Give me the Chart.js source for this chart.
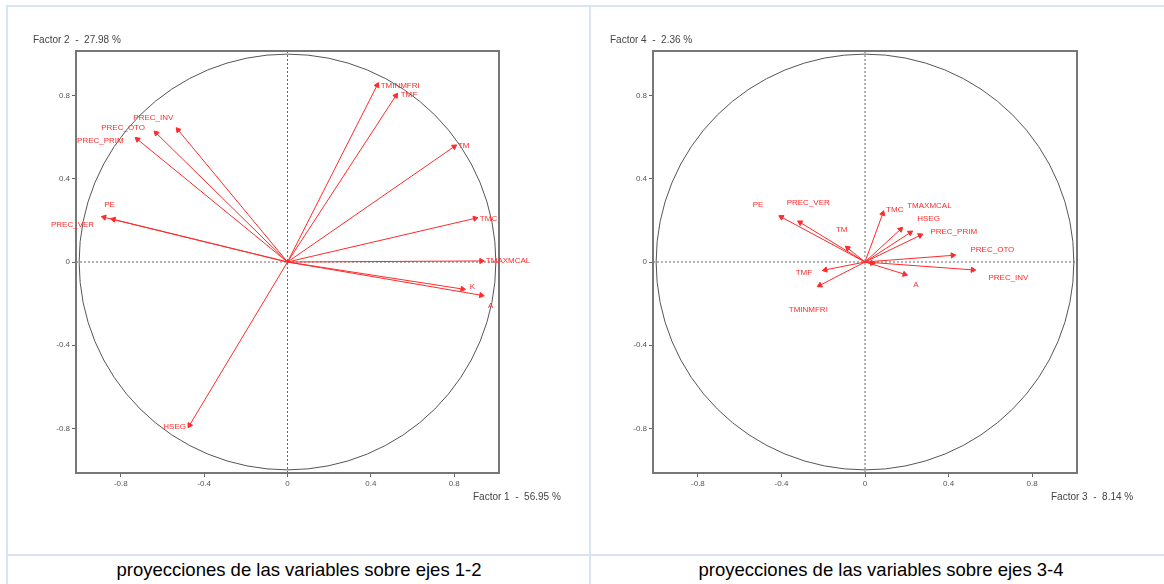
<!DOCTYPE html>
<html>
<head>
<meta charset="utf-8">
<script src="https://cdn.jsdelivr.net/npm/chart.js@4/dist/chart.umd.min.js"></script>
<style>
  body { margin: 0; background: #fff; width: 1164px; height: 584px; overflow: hidden; position: relative;
         font-family: "Liberation Sans", Arial, sans-serif; }
  .rule { position: absolute; background: #dae3f3; }
  .cap { position: absolute; top: 557px; height: 27px; line-height: 26px; text-align: center;
         font-size: 18.5px; color: #000; }
  canvas { position: absolute; }
</style>
</head>
<body>
<div class="rule" style="left:6px;top:5px;width:1158px;height:2px"></div>
<div class="rule" style="left:6px;top:5px;width:2px;height:579px"></div>
<div class="rule" style="left:589px;top:5px;width:2px;height:579px"></div>
<div class="rule" style="left:6px;top:554px;width:1158px;height:2px"></div>

<canvas id="plot12" width="580" height="546" style="left:9px;top:8px"></canvas>
<canvas id="plot34" width="572" height="546" style="left:592px;top:8px"></canvas>

<div class="cap" style="left:8px;width:582px">proyecciones de las variables sobre ejes 1-2</div>
<div class="cap" style="left:591px;width:580px">proyecciones de las variables sobre ejes 3-4</div>

<script>
// variable coordinates on the factor axes
const variables = ["TMINMFRI", "TMF", "TM", "TMC", "TMAXMCAL", "K", "A", "HSEG",
                   "PREC_INV", "PREC_OTO", "PREC_PRIM", "PE", "PREC_VER"];
const factor1 = [0.43, 0.52, 0.80, 0.90, 0.93, 0.84, 0.93, -0.47, -0.525, -0.63, -0.72, -0.88, -0.835];
const factor2 = [0.85, 0.80, 0.555, 0.21, 0.005, -0.13, -0.16, -0.785, 0.635, 0.62, 0.59, 0.215, 0.205];
const factor3 = [-0.216, -0.19, -0.083, 0.085, 0.17, 0.035, 0.19, 0.216, 0.516, 0.42, 0.264, -0.40, -0.31];
const factor4 = [-0.112, -0.038, 0.067, 0.233, 0.157, -0.005, -0.059, 0.141, -0.038, 0.032, 0.128, 0.216, 0.19];

// where each name sits (left edge of text), in factor units; null = not shown
const labelX12 = [0.447, 0.543, 0.817, 0.923, 0.952, 0.875, 0.962, -0.596, -0.74, -0.894, -1.01, -0.88, -1.135];
const labelY12 = [0.846, 0.803, 0.558, 0.207, 0.005, -0.12, -0.21, -0.793, 0.692, 0.644, 0.582, 0.274, 0.178];
const labelX34 = [-0.365, -0.332, -0.139, 0.101, 0.202, null, 0.231, 0.25, 0.591, 0.505, 0.313, -0.538, -0.375];
const labelY34 = [-0.231, -0.053, 0.154, 0.25, 0.268, null, -0.11, 0.207, -0.077, 0.058, 0.144, 0.274, 0.284];

const axisTicks = [-0.8, -0.4, 0, 0.4, 0.8];
const axisLimit = 1.015;

const RED = "#ff2a2a";

function pcaPlot(id, xs, ys, labX, labY, yTitle, xTitle, padLeft, padRight) {
  const datasets = variables.map((name, i) => {
    const rot = 90 - Math.atan2(ys[i], xs[i]) * 180 / Math.PI;
    return {
      label: name,
      data: [{ x: 0, y: 0 }, { x: xs[i], y: ys[i] }],
      showLine: true,
      borderColor: RED,
      borderWidth: 1,
      pointStyle: "triangle",
      pointRadius: [0, 3],
      pointRotation: [0, rot],
      pointBackgroundColor: RED,
      pointBorderColor: RED,
      pointBorderWidth: 1
    };
  });

  const decor = {
    id: "decor",
    beforeDatasetsDraw(chart) {
      const { ctx, chartArea: a, scales: { x, y } } = chart;
      const cx = x.getPixelForValue(0), cy = y.getPixelForValue(0);
      ctx.save();
      // unit circle
      ctx.strokeStyle = "#555";
      ctx.lineWidth = 1;
      ctx.beginPath();
      ctx.ellipse(cx, cy, x.getPixelForValue(1) - cx, cy - y.getPixelForValue(1), 0, 0, Math.PI * 2);
      ctx.stroke();
      // dotted axes through origin
      ctx.setLineDash([2, 2]);
      ctx.strokeStyle = "#666";
      ctx.beginPath();
      ctx.moveTo(a.left, cy); ctx.lineTo(a.right, cy);
      ctx.moveTo(cx, a.top); ctx.lineTo(cx, a.bottom);
      ctx.stroke();
      ctx.setLineDash([]);
      // frame
      ctx.strokeStyle = "#777";
      ctx.lineWidth = 2;
      ctx.strokeRect(a.left, a.top, a.right - a.left, a.bottom - a.top);
      ctx.restore();
    },
    afterDatasetsDraw(chart) {
      const { ctx, chartArea: a, scales: { x, y } } = chart;
      ctx.save();
      ctx.font = '8px "Liberation Sans", Arial, sans-serif';
      ctx.fillStyle = RED;
      ctx.textAlign = "left";
      ctx.textBaseline = "middle";
      variables.forEach((name, i) => {
        if (labX[i] === null) return;
        ctx.fillText(name, x.getPixelForValue(labX[i]), y.getPixelForValue(labY[i]));
      });
      ctx.font = '10px "Liberation Sans", Arial, sans-serif';
      ctx.fillStyle = "#444";
      ctx.fillText(yTitle, a.left - 43, a.top - 11);
      ctx.fillText(xTitle, a.right - 26, a.bottom + 24);
      ctx.restore();
    }
  };

  const setTicks = s => { s.ticks = axisTicks.map(v => ({ value: v })); };
  const tickStyle = {
    font: { size: 8, family: '"Liberation Sans", Arial, sans-serif' },
    color: "#555",
    padding: 2,
    callback: v => String(v)
  };
  const gridStyle = { drawOnChartArea: false, drawTicks: true, tickLength: 4, color: "#666" };

  new Chart(document.getElementById(id), {
    type: "scatter",
    data: { datasets },
    options: {
      responsive: false,
      animation: false,
      layout: { padding: { left: padLeft, right: padRight, top: 43, bottom: 51 } },
      plugins: { legend: { display: false }, tooltip: { enabled: false } },
      scales: {
        x: {
          type: "linear", min: -axisLimit, max: axisLimit,
          afterBuildTicks: setTicks,
          afterFit: s => { s.height = 30; },
          ticks: tickStyle, grid: gridStyle, border: { display: false }
        },
        y: {
          type: "linear", min: -axisLimit, max: axisLimit,
          afterBuildTicks: setTicks,
          afterFit: s => { s.width = 40; },
          ticks: tickStyle, grid: gridStyle, border: { display: false }
        }
      }
    },
    plugins: [decor]
  });
}

pcaPlot("plot12", factor1, factor2, labelX12, labelY12,
        "Factor 2  -  27.98 %", "Factor 1  -  56.95 %", 27, 90);
pcaPlot("plot34", factor3, factor4, labelX34, labelY34,
        "Factor 4  -  2.36 %", "Factor 3  -  8.14 %", 21, 87);
</script>
</body>
</html>
